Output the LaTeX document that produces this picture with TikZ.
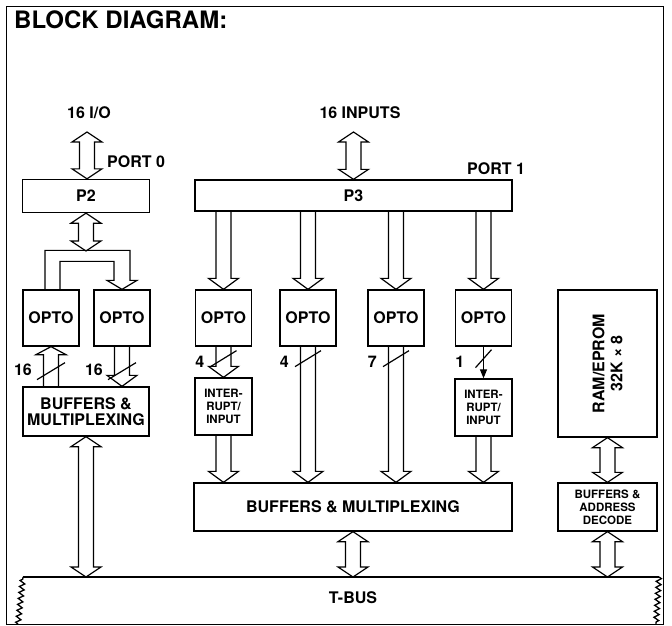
\documentclass[tikz,border=0pt]{standalone}
\usepackage{fontspec}
\setmainfont{TeX Gyre Heros}
\usetikzlibrary{calc,arrows.meta,decorations.pathmorphing}
\newcommand{\lblf}{\fontsize{16}{16}\selectfont\bfseries}
\newcommand{\smf}{\fontsize{11.5}{13}\selectfont\bfseries}
\newcommand{\titlef}{\fontsize{24}{24}\selectfont\bfseries}
\tikzset{
  blk/.style={draw,line width=1.3pt,inner sep=0pt,align=center,font=\lblf},
  lbl/.style={inner sep=0pt,align=center,font=\lblf},
  opto/.style={blk,minimum width=56,minimum height=56},
  intr/.style={blk,font=\smf,minimum width=57,minimum height=57},
  bus/.style={line width=1.2pt,line join=miter},
  sl/.style={line width=1.2pt},
  wire/.style={line width=1.2pt,-{Triangle[length=9pt,width=7pt]}},
  zz/.style={line width=1.3pt,decorate,decoration={zigzag,segment length=6pt,amplitude=2.5pt}}
}
% hollow bus arrows (vertical): tail, tip
\newcommand{\busdown}[2]{\draw[bus] let \p1=(#1),\p2=(#2) in
  (\x2-7.5pt,\y1) -- (\x2-7.5pt,\y2+11pt) -- (\x2-15pt,\y2+11pt) -- (\x2,\y2)
  -- (\x2+15pt,\y2+11pt) -- (\x2+7.5pt,\y2+11pt) -- (\x2+7.5pt,\y1);}
\newcommand{\busup}[2]{\draw[bus] let \p1=(#1),\p2=(#2) in
  (\x2-7.5pt,\y1) -- (\x2-7.5pt,\y2-8pt) -- (\x2-15pt,\y2-8pt) -- (\x2,\y2)
  -- (\x2+15pt,\y2-8pt) -- (\x2+7.5pt,\y2-8pt) -- (\x2+7.5pt,\y1);}
% double headed: top, bottom
\newcommand{\busboth}[2]{\draw[bus] let \p1=(#1),\p2=(#2) in
  (\x1,\y1) -- (\x1+15pt,\y1-10pt) -- (\x1+7.5pt,\y1-10pt) -- (\x1+7.5pt,\y2+10pt)
  -- (\x1+15pt,\y2+10pt) -- (\x1,\y2) -- (\x1-15pt,\y2+10pt) -- (\x1-7.5pt,\y2+10pt)
  -- (\x1-7.5pt,\y1-10pt) -- (\x1-15pt,\y1-10pt) -- cycle;}

\begin{document}
\begin{tikzpicture}[x=1pt,y=-1pt]
\useasboundingbox (0,0) rectangle (672,626);
\draw[line width=1.6pt] (6.5,6.5) rectangle (663.5,624.5);
\node[anchor=base west,inner sep=0pt,font=\titlef] (title) at (14,29) {BLOCK DIAGRAM:};
% ports
\node[blk,minimum width=127,minimum height=33] (p2) at (86,196) {P2};
\node[blk,minimum width=317,minimum height=31] (p3) at (353.5,195.5) {P3};
\node[lbl] (io) at (89,113) {16 I/O};
\node[lbl,anchor=west] (port0) at (107,162) {PORT 0};
\node[lbl] (inp) at (360,113) {16 INPUTS};
\node[lbl,anchor=west] (port1) at (467,168.5) {PORT 1};
\coordinate (iotip) at (87,132);
\coordinate (inptip) at (353.5,132);
% opto row
\foreach \o/\cx in {opto1/51,opto2/122,opto3/223.5,opto4/308,opto5/396,opto6/483.5}
  \node[opto] (\o) at (\cx,318) {OPTO};
\node[intr] (ir1) at (223.5,406.5) {INTER-\\RUPT/\\INPUT};
\node[intr] (ir2) at (483.5,407.5) {INTER-\\RUPT/\\INPUT};
\node[blk,minimum width=126,minimum height=49] (lmux) at (86,411.5) {BUFFERS \&\\MULTIPLEXING};
\node[blk,minimum width=318,minimum height=48] (bmux) at (353,507) {BUFFERS \& MULTIPLEXING};
\node[blk,minimum width=99,minimum height=147] (ram) at (607.5,363.5) {};
\node[lbl,rotate=90] (ramt) at (ram.center) {RAM/EPROM\\[2pt]32K × 8};
\node[blk,font=\smf,minimum width=99,minimum height=48] (adec) at (607.5,507) {BUFFERS \&\\ADDRESS\\DECODE};
% t-bus
\node[lbl] (tbus) at (353,598) {T-BUS};
\coordinate (tbtl) at (23,577);
\coordinate (tbtr) at (659,577);
\coordinate (tbbl) at (18,624);
\coordinate (tbbr) at (656,624);
\draw[line width=1.3pt] (tbtl) -- (tbtr);
\draw[zz] (tbbl) -- (tbtl);
\draw[zz] (tbtr) -- (tbbr);
% buses
\busboth{iotip}{p2.north}
\busboth{inptip}{p3.north}
\coordinate (split) at (86,251);
\busboth{p2.south}{split}
\draw[bus] ($(opto1.north)+(-6,0)$) -- ($(opto1.north)+(-6,-39)$) -- ($(opto2.north)+(8,-39)$)
  -- ($(opto2.north)+(8,-9)$) -- ($(opto2.north)+(15,-9)$) -- (opto2.north)
  -- ($(opto2.north)+(-15,-9)$) -- ($(opto2.north)+(-8,-9)$) -- ($(opto2.north)+(-8,-28)$)
  -- ($(opto1.north)+(9,-28)$) -- ($(opto1.north)+(9,0)$);
\busup{opto1.south |- lmux.north}{opto1.south}
\busdown{opto2.south}{opto2.south |- lmux.north}
\foreach \o in {opto3,opto4,opto5,opto6}
  \busdown{\o.north |- p3.south}{\o.north};
\busdown{opto3.south}{ir1.north}
\busdown{opto4.south}{opto4.south |- bmux.north}
\busdown{opto5.south}{opto5.south |- bmux.north}
\busdown{ir1.south}{bmux.north -| ir1.south}
\busdown{ir2.south}{bmux.north -| ir2.south}
\draw[wire] (opto6.south) -- (ir2.north);
\busboth{lmux.south}{lmux.south |- tbtl}
\busboth{bmux.south}{bmux.south |- tbtl}
\busboth{ram.south}{adec.north}
\busboth{adec.south}{adec.south |- tbtl}
% bit counts
\foreach \o in {opto1,opto2}{
  \draw[sl] ($(\o.south)+(-14,33)$) -- ++(28,-17);
  \node[lbl,anchor=east] (w\o) at ($(\o.south)+(-19,23)$) {16};
}
\foreach \o/\b in {opto3/4,opto4/4,opto5/7}{
  \draw[sl] ($(\o.south)+(-13,20)$) -- ++(26,-16);
  \node[lbl,anchor=east] (w\o) at ($(\o.south)+(-19,15)$) {\b};
}
\draw[sl] ($(opto6.south)+(-8,21)$) -- ++(16,-18);
\node[lbl,anchor=east] (wopto6) at ($(opto6.south)+(-19,15)$) {1};
\end{tikzpicture}
\end{document}
